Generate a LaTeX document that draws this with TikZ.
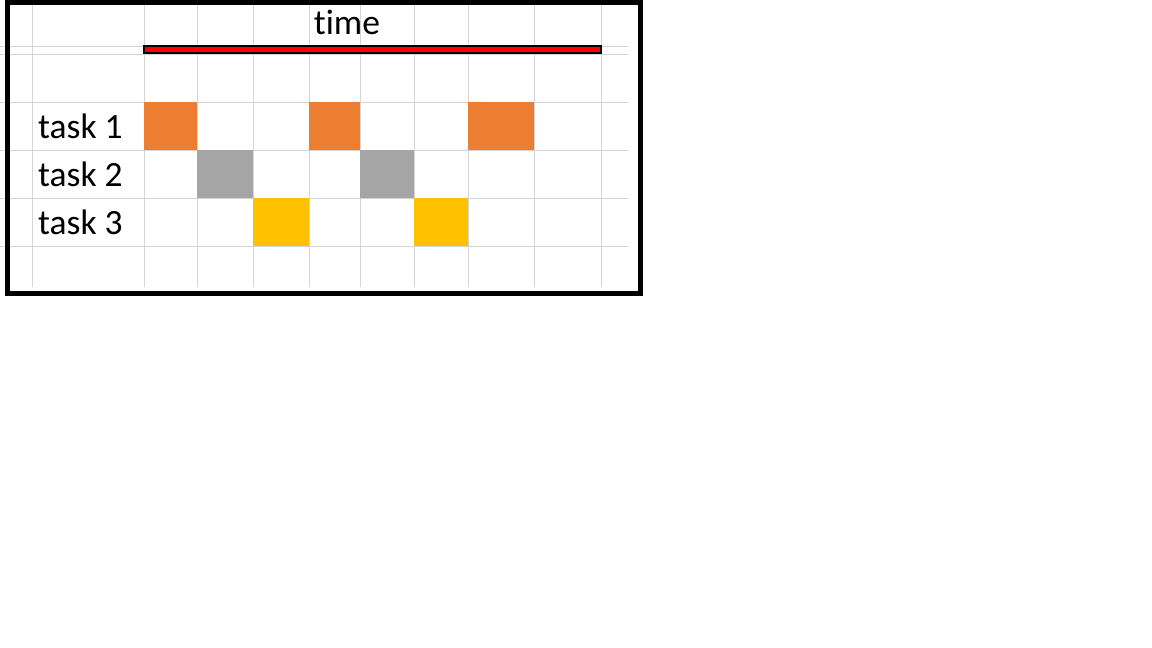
\documentclass[tikz,border=0pt]{standalone}
\usepackage{fontspec}
\setmainfont[Ligatures={NoCommon}]{Carlito}
\begin{document}
\begin{tikzpicture}[x=1pt,y=-1pt,
  gridline/.style={draw=black!17,line width=1pt},
  cell/.style={draw=none,inner sep=0pt,outer sep=0pt,anchor=north west},
  lbl/.style={inner sep=0pt,anchor=base west,font=\fontsize{35.5}{42}\selectfont},
  frame/.style={draw=black,line width=5pt},
  timebar/.style={draw=black,line width=2pt,fill=red}]
\useasboundingbox (0,0) rectangle (1152,648);
% grid
\foreach \yy in {46,54,102,150,198,246} \draw[gridline] (0,\yy) -- (628,\yy);
\foreach \xx in {32,144,197,253,309,360,414,468,534,601} \draw[gridline] (\xx,4) -- (\xx,287);
% cells
\definecolor{orangec}{HTML}{ED7D31}
\definecolor{grayc}{HTML}{A5A5A5}
\definecolor{yellowc}{HTML}{FFC000}
\node[cell,fill=orangec,minimum width=53pt,minimum height=48pt] (o1) at (144,102) {};
\node[cell,fill=orangec,minimum width=51pt,minimum height=48pt] (o2) at (309,102) {};
\node[cell,fill=orangec,minimum width=66pt,minimum height=48pt] (o3) at (468,102) {};
\node[cell,fill=grayc,minimum width=56pt,minimum height=48pt] (g1) at (197,150) {};
\node[cell,fill=grayc,minimum width=54pt,minimum height=48pt] (g2) at (360,150) {};
\node[cell,fill=yellowc,minimum width=56pt,minimum height=48pt] (y1) at (253,198) {};
\node[cell,fill=yellowc,minimum width=54pt,minimum height=48pt] (y2) at (414,198) {};
% time bar
\node[timebar,inner sep=0pt,outer sep=0pt,anchor=north west,minimum width=456.5pt,minimum height=7pt] (bar) at (144.3,46.3) {};
% labels
\node[lbl,anchor=base] (time) at (347,34) {time};
\node[lbl] (t1) at (38,138) {task 1};
\node[lbl] (t2) at (38,186) {task 2};
\node[lbl] (t3) at (38,234) {task 3};
% frame
\draw[frame] (7.5,2.3) rectangle (640.3,293);
\end{tikzpicture}
\end{document}
